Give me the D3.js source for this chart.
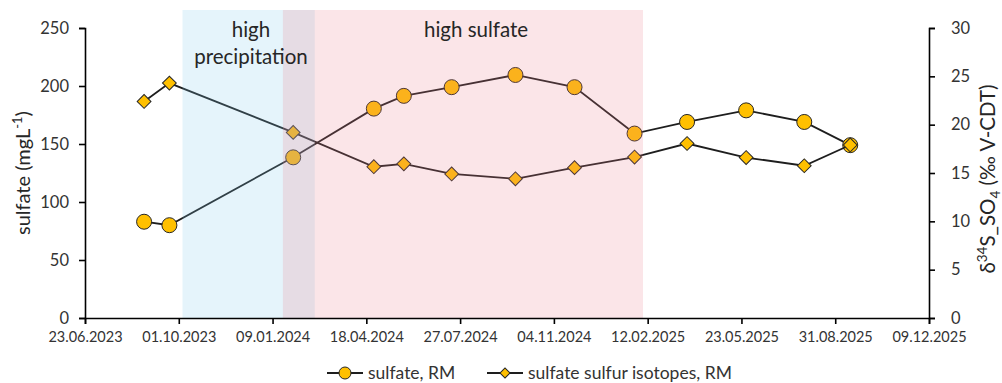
<!DOCTYPE html>
<html>
<head>
<meta charset="utf-8">
<title>sulfate RM</title>
<script src="https://d3js.org/d3.v7.min.js"></script>
<style>
	body { margin: 0; background: #fff; }
	text { font-family: Lato, "Open Sans", sans-serif; fill: #404040; }
</style>
</head>
<body>
<script>

// sampling dates shared by both series
var dates = ["2023-08-25", "2023-09-21", "2024-01-31", "2024-04-26", "2024-05-28", "2024-07-18",
	"2024-09-24", "2024-11-26", "2025-01-29", "2025-03-26", "2025-05-28", "2025-07-29", "2025-09-16"]
var sulfate = [83, 80, 138.5, 180.5, 191.5, 199, 209.5, 199, 159, 169, 179, 169, 149]
var isotopes = [22.4, 24.3, 19.2, 15.65, 15.95, 14.9, 14.4, 15.55, 16.65, 18.05, 16.6, 15.75, 17.9]

// shaded periods
var periods = [
	{name: "precip", start: "2023-10-05", end: "2024-02-23", color: "rgba(125,200,235,0.2)"},
	{name: "sulfate", start: "2024-01-20", end: "2025-02-07", color: "rgba(235,125,140,0.2)"}
]

var xTicks = ["2023-06-23", "2023-10-01", "2024-01-09", "2024-04-18", "2024-07-27", "2024-11-04",
	"2025-02-12", "2025-05-23", "2025-08-31", "2025-12-09"]
var leftTicks = [0, 50, 100, 150, 200, 250]
var rightTicks = [0, 5, 10, 15, 20, 25, 30]

var width = 1002
var height = 383
var margin = {top: 28, right: 73, bottom: 65, left: 85}

var parse = d3.utcParse("%Y-%m-%d")
var fmt = d3.utcFormat("%d.%m.%Y")

var svg = d3.select("body").append("svg")
	.attr("width", width)
	.attr("height", height)

var x = d3.scaleUtc()
	.domain([parse(xTicks[0]), parse(xTicks[xTicks.length - 1])])
	.range([margin.left, width - margin.right])

var yL = d3.scaleLinear().domain([0, 250]).range([height - margin.bottom, margin.top])
var yR = d3.scaleLinear().domain([0, 30]).range([height - margin.bottom, margin.top])

var pts = dates.map(function(d, i) {
	return {date: parse(d), s: sulfate[i], iso: isotopes[i]}
})

var lineColor = "#1e1e1e"
var gold = "#ffc000"

// sulfate series
svg.append("path")
	.datum(pts)
	.attr("fill", "none")
	.attr("stroke", lineColor)
	.attr("stroke-width", 1.8)
	.attr("d", d3.line().x(function(d) { return x(d.date) }).y(function(d) { return yL(d.s) }))

svg.append("g").selectAll("circle")
	.data(pts)
	.enter().append("circle")
	.attr("cx", function(d) { return x(d.date) })
	.attr("cy", function(d) { return yL(d.s) })
	.attr("r", 7.5)
	.attr("fill", gold)
	.attr("stroke", "#262626")
	.attr("stroke-width", 1)

// isotope series
svg.append("path")
	.datum(pts)
	.attr("fill", "none")
	.attr("stroke", lineColor)
	.attr("stroke-width", 1.8)
	.attr("d", d3.line().x(function(d) { return x(d.date) }).y(function(d) { return yR(d.iso) }))

var diamond = d3.symbol().type(d3.symbolSquare).size(95)

svg.append("g").selectAll("path")
	.data(pts)
	.enter().append("path")
	.attr("d", diamond)
	.attr("transform", function(d) { return "translate(" + x(d.date) + "," + yR(d.iso) + ") rotate(45)" })
	.attr("fill", gold)
	.attr("stroke", "#262626")
	.attr("stroke-width", 1)

// shaded periods go over the data, like in the original
var bandTop = yL.range()[1] - 18
svg.append("g").selectAll("rect")
	.data(periods)
	.enter().append("rect")
	.attr("x", function(d) { return x(parse(d.start)) })
	.attr("width", function(d) { return x(parse(d.end)) - x(parse(d.start)) })
	.attr("y", bandTop)
	.attr("height", yL(0) - bandTop)
	.attr("fill", function(d) { return d.color })

// period labels
var mid1 = x(parse("2023-12-17"))
svg.append("text").attr("x", mid1).attr("y", 37).attr("text-anchor", "middle")
	.style("font-size", "20.5px").style("fill", "#262626").text("high")
svg.append("text").attr("x", mid1).attr("y", 64).attr("text-anchor", "middle")
	.style("font-size", "20.5px").style("fill", "#262626").text("precipitation")
svg.append("text").attr("x", x(parse("2024-08-13"))).attr("y", 37).attr("text-anchor", "middle")
	.style("font-size", "20.5px").style("fill", "#262626").text("high sulfate")

// axes
var xAxis = d3.axisBottom(x)
	.tickValues(xTicks.map(parse))
	.tickFormat(fmt)
	.tickSizeOuter(0)
	.tickSize(6)
	.tickPadding(8)

var gx = svg.append("g")
	.attr("transform", "translate(0," + yL(0) + ")")
	.call(xAxis)

var gl = svg.append("g")
	.attr("transform", "translate(" + margin.left + ",0)")
	.call(d3.axisLeft(yL).tickValues(leftTicks).tickSizeOuter(0).tickSize(6).tickPadding(10))

var gr = svg.append("g")
	.attr("transform", "translate(" + (width - margin.right) + ",0)")
	.call(d3.axisRight(yR).tickValues(rightTicks).tickSizeOuter(0).tickSize(6).tickPadding(16))

;[gx, gl, gr].forEach(function(g) {
	g.select(".domain").attr("stroke", "#000").attr("stroke-width", 1.6)
	g.selectAll(".tick line").attr("stroke", "#000").attr("stroke-width", 1.6)
	g.selectAll(".tick text").style("font-family", "Lato, sans-serif").style("fill", "#333")
})
gx.selectAll(".tick text").style("font-size", "14.5px")
gl.selectAll(".tick text").style("font-size", "16.5px")
gr.selectAll(".tick text").style("font-size", "16.5px")

// axis titles
var lt = svg.append("text")
	.attr("transform", "translate(30," + yL(125) + ") rotate(-90)")
	.attr("text-anchor", "middle")
	.style("font-size", "20px").style("fill", "#262626")
lt.append("tspan").text("sulfate (mgL")
lt.append("tspan").attr("dy", -8).style("font-size", "13px").text("-1")
lt.append("tspan").attr("dy", 8).text(")")

var rt = svg.append("text")
	.attr("transform", "translate(995," + (yR(15) + 6) + ") rotate(-90)")
	.attr("text-anchor", "middle")
	.style("font-size", "20.5px").style("fill", "#262626")
rt.append("tspan").text("δ")
rt.append("tspan").attr("dy", -8).style("font-size", "13.5px").text("34")
rt.append("tspan").attr("dy", 8).text("S_SO")
rt.append("tspan").attr("dy", 5).style("font-size", "13.5px").text("4")
rt.append("tspan").attr("dy", -5).text(" (‰ V-CDT)")

// legend
var legend = svg.append("g").attr("transform", "translate(0,373)")
var items = [
	{label: "sulfate, RM", x0: 327, shape: "circle"},
	{label: "sulfate sulfur isotopes, RM", x0: 487, shape: "diamond"}
]
items.forEach(function(it) {
	legend.append("line").attr("x1", it.x0).attr("x2", it.x0 + 36)
		.attr("stroke", lineColor).attr("stroke-width", 1.8)
	if (it.shape === "circle") {
		legend.append("circle").attr("cx", it.x0 + 18).attr("r", 6)
			.attr("fill", gold).attr("stroke", "#262626")
	} else {
		legend.append("path").attr("d", d3.symbol().type(d3.symbolSquare).size(50))
			.attr("transform", "translate(" + (it.x0 + 18) + ",0) rotate(45)")
			.attr("fill", gold).attr("stroke", "#262626")
	}
	legend.append("text").attr("x", it.x0 + 41).attr("dy", "0.35em")
		.style("font-size", "17.5px").style("fill", "#333").text(it.label)
})

</script>
</body>
</html>
